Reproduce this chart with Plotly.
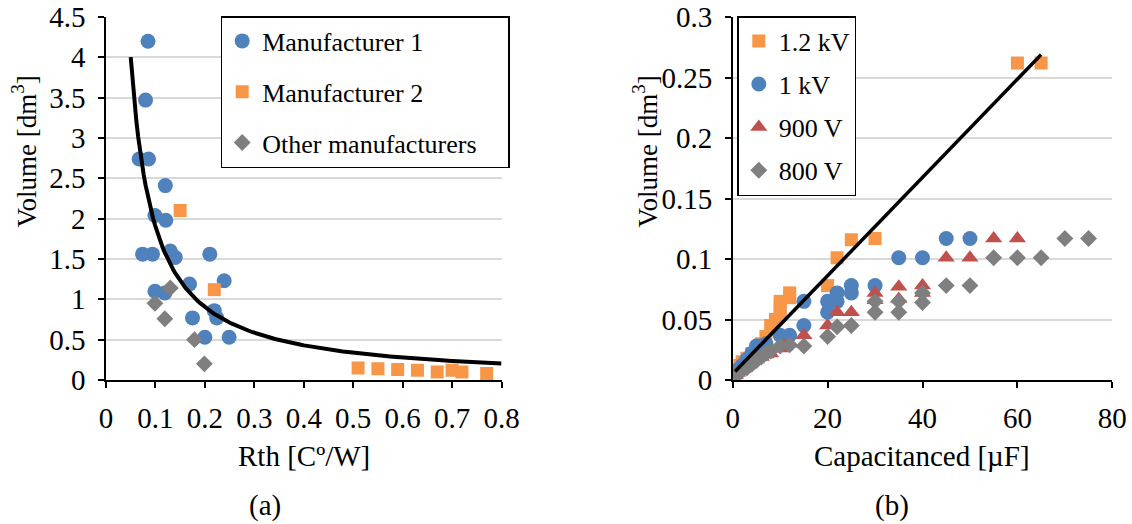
import numpy as np
import plotly.graph_objects as go

# ---------------- (a) Volume vs thermal resistance ----------------
m1_rth = [0.085, 0.080, 0.067, 0.086, 0.120, 0.099, 0.121, 0.074, 0.094, 0.130, 0.140,
          0.210, 0.239, 0.169, 0.099, 0.119, 0.219, 0.224, 0.175, 0.200, 0.249]
m1_vol = [4.20, 3.47, 2.74, 2.74, 2.41, 2.04, 1.98, 1.56, 1.56, 1.60, 1.52,
          1.56, 1.23, 1.19, 1.10, 1.08, 0.86, 0.77, 0.77, 0.53, 0.53]

m2_rth = [0.150, 0.219, 0.51, 0.55, 0.59, 0.63, 0.67, 0.70, 0.72, 0.77]
m2_vol = [2.10, 1.12, 0.15, 0.14, 0.13, 0.12, 0.10, 0.12, 0.10, 0.08]

other_rth = [0.130, 0.099, 0.119, 0.179, 0.199]
other_vol = [1.14, 0.95, 0.76, 0.50, 0.20]

# power-law trendline  V = A * Rth^B
POW_A = 0.1608
POW_B = -1.073
POW_RANGE = (0.05, 0.8)

# ---------------- (b) Volume vs capacitance ----------------
c_12kv = [0.5, 1, 1.5, 2, 3, 4, 5, 6, 7, 8, 9, 10, 10, 10, 12, 12, 20, 22, 25, 30, 60, 65]
v_12kv = [0.005, 0.008, 0.012, 0.015, 0.018, 0.022, 0.026, 0.030, 0.036, 0.045, 0.050,
          0.055, 0.060, 0.065, 0.068, 0.072, 0.078, 0.101, 0.116, 0.117, 0.262, 0.262]

c_1kv = [0.5, 1, 2, 3, 4, 5, 6, 7, 10, 12, 15, 15, 20, 20, 22, 22, 25, 25, 30, 35, 40, 45, 50]
v_1kv = [0.005, 0.008, 0.012, 0.017, 0.022, 0.028, 0.028, 0.030, 0.037, 0.037, 0.045, 0.065,
         0.056, 0.065, 0.065, 0.072, 0.072, 0.078, 0.078, 0.101, 0.101, 0.117, 0.117]

c_900v = [0.5, 1, 2, 3, 4, 5, 6, 7, 8, 10, 11, 12, 15, 20, 22, 25, 30, 30, 35, 35, 40, 40, 45, 50, 55, 60]
v_900v = [0.004, 0.006, 0.009, 0.012, 0.015, 0.017, 0.019, 0.021, 0.022, 0.026, 0.028, 0.030,
          0.037, 0.045, 0.056, 0.056, 0.066, 0.072, 0.067, 0.077, 0.072, 0.078, 0.101, 0.101, 0.117, 0.117]

c_800v = [0.5, 1, 2, 3, 4, 5, 6, 7, 8, 10, 12, 15, 20, 22, 25, 30, 30, 35, 35, 40, 40,
          45, 50, 55, 60, 65, 70, 75]
v_800v = [0.004, 0.005, 0.008, 0.010, 0.013, 0.016, 0.019, 0.022, 0.024, 0.028, 0.029, 0.028,
          0.036, 0.044, 0.045, 0.056, 0.065, 0.056, 0.065, 0.064, 0.072,
          0.078, 0.078, 0.101, 0.101, 0.101, 0.117, 0.117]

# linear trendline  V = K * C + V0
LIN_K = 0.00406
LIN_V0 = 0.005
LIN_RANGE = (0.5, 65)

BLUE = "#4F81BD"
ORANGE = "#F79646"
RED = "#C0504D"
GRAY = "#7F7F7F"
FONT = "Liberation Serif, Times New Roman, Times, serif"
NBSP = "\u00a0"

fig = go.Figure()

# panel (a)
fig.add_trace(go.Scatter(x=m1_rth, y=m1_vol, mode="markers", name="Manufacturer 1",
                         marker=dict(symbol="circle", size=15, color=BLUE),
                         legend="legend", legendgroup="a1"))
fig.add_trace(go.Scatter(x=m2_rth, y=m2_vol, mode="markers", name="Manufacturer 2",
                         marker=dict(symbol="square", size=13, color=ORANGE),
                         legend="legend", legendgroup="a2"))
fig.add_trace(go.Scatter(x=other_rth, y=other_vol, mode="markers",
                         name="Other manufacturers" + NBSP * 4,
                         marker=dict(symbol="diamond", size=13, color=GRAY),
                         legend="legend", legendgroup="a3"))
rth_fit = np.linspace(POW_RANGE[0], POW_RANGE[1], 200)
fig.add_trace(go.Scatter(x=rth_fit, y=POW_A * rth_fit ** POW_B, mode="lines",
                         line=dict(color="black", width=4), showlegend=False))

# panel (b)
fig.add_trace(go.Scatter(x=c_12kv, y=v_12kv, mode="markers", name="1.2 kV",
                         marker=dict(symbol="square", size=13, color=ORANGE),
                         xaxis="x2", yaxis="y2", legend="legend2", legendgroup="b1"))
fig.add_trace(go.Scatter(x=c_1kv, y=v_1kv, mode="markers", name="1 kV",
                         marker=dict(symbol="circle", size=15, color=BLUE),
                         xaxis="x2", yaxis="y2", legend="legend2", legendgroup="b2"))
fig.add_trace(go.Scatter(x=c_900v, y=v_900v, mode="markers", name="900 V" + NBSP,
                         marker=dict(symbol="triangle-up", size=15, color=RED),
                         xaxis="x2", yaxis="y2", legend="legend2", legendgroup="b3"))
fig.add_trace(go.Scatter(x=c_800v, y=v_800v, mode="markers", name="800 V",
                         marker=dict(symbol="diamond", size=13, color=GRAY),
                         xaxis="x2", yaxis="y2", legend="legend2", legendgroup="b4"))
c_fit = np.array(LIN_RANGE)
fig.add_trace(go.Scatter(x=c_fit, y=LIN_K * c_fit + LIN_V0, mode="lines",
                         line=dict(color="black", width=3.5), showlegend=False,
                         xaxis="x2", yaxis="y2"))

tick_font = dict(family=FONT, size=29, color="black")
common_x = dict(showgrid=False, zeroline=False, showline=True, linecolor="black", linewidth=1.5,
                ticks="outside", ticklen=6, tickwidth=1.5, tickcolor="black",
                tickfont=tick_font, ticklabelstandoff=5, automargin=False)
common_y = dict(showgrid=True, gridcolor="#D9D9D9", gridwidth=1.5, zeroline=False,
                showline=True, linecolor="black", linewidth=1.5,
                ticks="outside", ticklen=6, tickwidth=1.5, tickcolor="black",
                tickfont=tick_font, ticklabelstandoff=7, automargin=False)

Y_DOM = [1 - 380 / 524, 1 - 17 / 524]

legend_style = dict(font=dict(family=FONT, size=26, color="black"), bgcolor="white",
                    bordercolor="black", borderwidth=1.5, xanchor="left", yanchor="top",
                    traceorder="grouped", itemsizing="trace")

fig.update_layout(
    width=1132, height=524,
    margin=dict(l=0, r=0, t=0, b=0, pad=0, autoexpand=False),
    paper_bgcolor="white", plot_bgcolor="white",
    font=dict(family=FONT, color="black"),
    xaxis=dict(domain=[106 / 1132, 501.5 / 1132], range=[0, 0.8], dtick=0.1, anchor="y", **common_x),
    yaxis=dict(domain=Y_DOM, range=[0, 4.5], dtick=0.5, anchor="x", **common_y),
    xaxis2=dict(domain=[732.7 / 1132, 1112.3 / 1132], range=[0, 80], dtick=20, anchor="y2", **common_x),
    yaxis2=dict(domain=Y_DOM, range=[0, 0.3], dtick=0.05, anchor="x2", **common_y),
    legend=dict(x=220.7 / 1132, y=1 - 16 / 524, tracegroupgap=14, **legend_style),
    legend2=dict(x=737.3 / 1132, y=1 - 16 / 524, tracegroupgap=6.3, **legend_style),
    showlegend=True,
)

axis_title_font = dict(family=FONT, size=29, color="black")
y_title_font = dict(family=FONT, size=27, color="black")
annotations = [
    dict(text="Rth [C\u00ba/W]", x=304 / 1132, y=1 - 456 / 524, font=axis_title_font),
    dict(text="Capacitanced [\u00b5F]", x=922 / 1132, y=1 - 456 / 524, font=axis_title_font),
    dict(text="(a)", x=265 / 1132, y=1 - 505 / 524, font=axis_title_font),
    dict(text="(b)", x=892 / 1132, y=1 - 505 / 524, font=axis_title_font),
    dict(text="Volume [dm<sup>3</sup>]", x=24 / 1132, y=1 - 151.5 / 524, textangle=-90,
         font=y_title_font),
    dict(text="Volume [dm<sup>3</sup>]", x=645 / 1132, y=1 - 151.5 / 524, textangle=-90,
         font=y_title_font),
]
for a in annotations:
    fig.add_annotation(xref="paper", yref="paper", showarrow=False,
                       xanchor="center", yanchor="middle", **a)

fig.write_html("out.html")
